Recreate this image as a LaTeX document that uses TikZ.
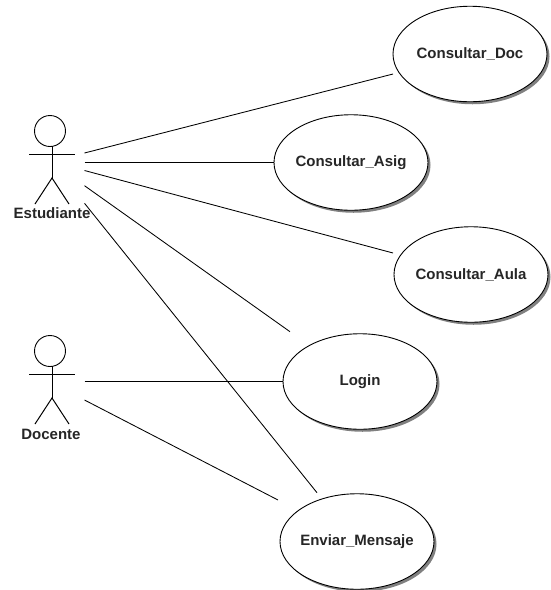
\documentclass[tikz,border=0pt]{standalone}
\usepackage{fontspec}
\setmainfont{Liberation Sans}
\usetikzlibrary{shapes.geometric,shadows}
\begin{document}
\begin{tikzpicture}[x=1pt,y=-1pt,
  usecase/.style={ellipse,draw=black,fill=white,line width=0.9pt,minimum width=154pt,minimum height=95.5pt,inner sep=0pt,inner xsep=-30pt,font=\bfseries\fontsize{15}{17}\selectfont,text=black!85,
    drop shadow={shadow xshift=2.5pt,shadow yshift=-2.5pt,fill=black!50,opacity=1}},
  actorlabel/.style={inner sep=0pt,text=black!85,font=\bfseries\fontsize{15}{17}\selectfont},
  head/.style={circle,draw=black,line width=0.9pt,minimum size=31pt,inner sep=0pt},
  link/.style={draw=black,line width=0.85pt},
  flatlink/.style={draw=black,line width=1pt},
  limb/.style={draw=black,line width=1pt}]
\path[use as bounding box,fill=white] (0,0) rectangle (551,590);
% use cases
\node[usecase] (doc) at (470,54) {Consultar\_Doc};
\node[usecase] (asig) at (351,162.5) {Consultar\_Asig};
\node[usecase] (aula) at (471,274.5) {Consultar\_Aula};
\node[usecase] (login) at (360,381.5) {Login};
\node[usecase] (envi) at (357,541.5) {Enviar\_Mensaje};
% actor Estudiante
\node[head] (h1) at (50,131) {};
\coordinate (n1) at (52,146.4);
\coordinate (ha1) at (29,154);
\coordinate (ha2) at (75,154);
\coordinate (c1) at (52,178);
\coordinate (f1) at (35,204);
\coordinate (f2) at (69,204);
\draw[limb] (n1) -- (c1);
\draw[limb] (ha1) -- (ha2);
\draw[limb] (f1) -- (c1) -- (f2);
\node[actorlabel] (est) at (52,213.5) {Estudiante};
% actor Docente
\node[head] (h2) at (50,351) {};
\coordinate (n2) at (52,366.4);
\coordinate (hb1) at (29,374);
\coordinate (hb2) at (75,374);
\coordinate (c2) at (52,398);
\coordinate (g1) at (35,424);
\coordinate (g2) at (69,424);
\draw[limb] (n2) -- (c2);
\draw[limb] (hb1) -- (hb2);
\draw[limb] (g1) -- (c2) -- (g2);
\node[actorlabel] (doce) at (51,434) {Docente};
% connector ends
\coordinate (e1) at (84.5,153);
\coordinate (e2) at (84.5,162.5);
\coordinate (e3) at (84.5,170.5);
\coordinate (e4) at (84.5,185.7);
\coordinate (e5) at (84.5,203.3);
\coordinate (d1) at (84.5,381.5);
\coordinate (d2) at (84.5,400);
\coordinate (dt) at (393,74);
\coordinate (at) at (393,253);
\coordinate (lt) at (290,331.7);
\coordinate (et) at (278,500);
\coordinate (en) at (317,492.7);
\draw[link] (e1) -- (dt);
\draw[flatlink] (e2) -- (asig);
\draw[link] (e3) -- (at);
\draw[link] (e4) -- (lt);
\draw[link] (e5) -- (en);
\draw[flatlink] (d1) -- (login);
\draw[link] (d2) -- (et);
\end{tikzpicture}
\end{document}
